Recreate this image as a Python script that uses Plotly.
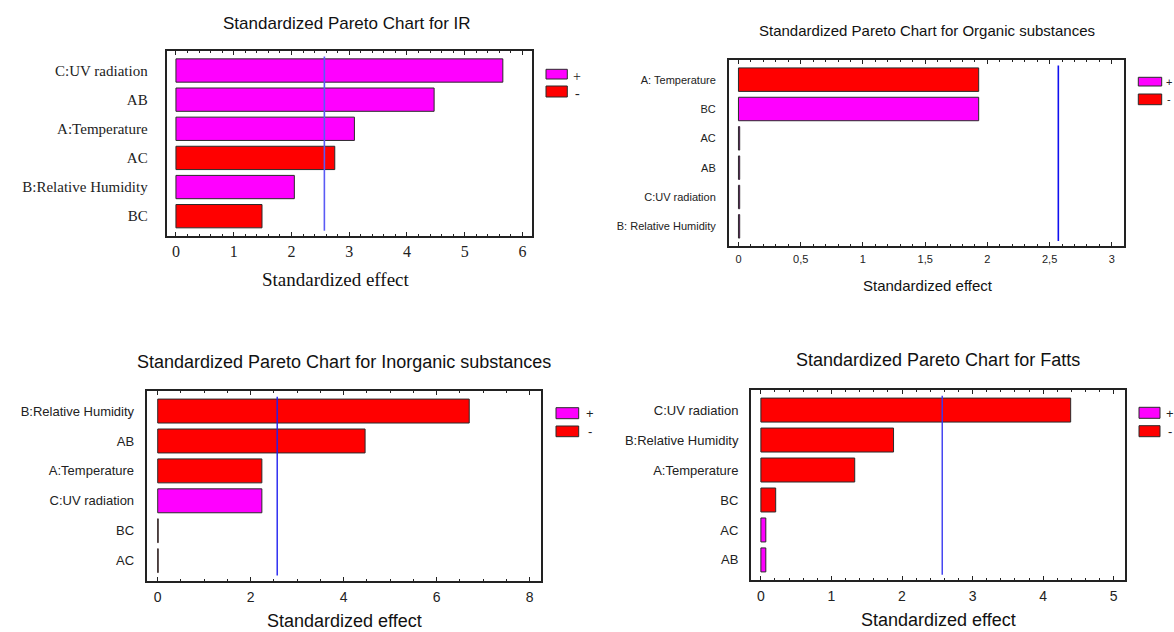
import plotly.graph_objects as go

# ---- data -------------------------------------------------------------
ir_factors = ["C:UV radiation", "AB", "A:Temperature", "AC", "B:Relative Humidity", "BC"]
ir_effects = [5.66, 4.47, 3.09, 2.75, 2.05, 1.49]
ir_signs = ["+", "+", "+", "-", "+", "-"]

org_factors = ["A: Temperature", "BC", "AC", "AB", "C:UV radiation", "B: Relative Humidity"]
org_effects = [1.93, 1.93, 0.01, 0.01, 0.01, 0.01]
org_signs = ["-", "+", "+", "+", "+", "+"]

inorg_factors = ["B:Relative Humidity", "AB", "A:Temperature", "C:UV radiation", "BC", "AC"]
inorg_effects = [6.70, 4.46, 2.24, 2.24, 0.01, 0.01]
inorg_signs = ["-", "-", "-", "+", "-", "-"]

fat_factors = ["C:UV radiation", "B:Relative Humidity", "A:Temperature", "BC", "AC", "AB"]
fat_effects = [4.39, 1.88, 1.33, 0.21, 0.07, 0.07]
fat_signs = ["-", "-", "-", "-", "+", "+"]

# critical value of the standardized effect (alpha = 0.05)
critical_t = 2.57

org_ticks = [0, 0.5, 1, 1.5, 2, 2.5, 3]
org_ticktext = ["0", "0,5", "1", "1,5", "2", "2,5", "3"]

W, H = 1174, 632
SIGN_COLORS = {"+": "#FF00FF", "-": "#FF0000"}

SERIF = "Liberation Serif, Times New Roman, serif"
NARROW = "Liberation Sans Narrow, Arial Narrow, Liberation Sans, Arial, sans-serif"
SANS = "Liberation Sans, Arial, sans-serif"


def fx(px):
    return px / W


def fy(py):
    return 1 - py / H


panels = [
    dict(factors=ir_factors, effects=ir_effects, signs=ir_signs,
         title="Standardized Pareto Chart for IR",
         box=(166.7, 51, 532.3, 235.7), xrange=[-0.16, 6.17],
         dtick=1, minor=0.2, tickvals=None, ticktext=None,
         title_font=dict(family=NARROW, size=17), title_pos=(347, 24),
         cat_font=dict(family=SERIF, size=15), cat_standoff=14,
         tick_font=dict(family=SERIF, size=16), tick_standoff=0,
         axt_font=dict(family=SERIF, size=19), axt_pos=(336, 279),
         line_color="#5A5AF5", line_w=1.6,
         leg=(546, 567.3, 69.3, 79, 86, 97, 577, 77, 93),
         leg_font=dict(family=SERIF, size=14)),
    dict(factors=org_factors, effects=org_effects, signs=org_signs,
         title="Standardized Pareto Chart for Organic substances",
         box=(729, 60, 1124.3, 246), xrange=[-0.076, 3.10],
         dtick=None, minor=0.1, tickvals=org_ticks, ticktext=org_ticktext,
         title_font=dict(family=NARROW, size=15), title_pos=(927, 30),
         cat_font=dict(family=NARROW, size=11), cat_standoff=9,
         tick_font=dict(family=NARROW, size=11), tick_standoff=2,
         axt_font=dict(family=NARROW, size=15), axt_pos=(927.5, 285),
         line_color="#1010F0", line_w=1.6,
         leg=(1138.3, 1161.7, 77.3, 86, 94, 104.7, 1169, 81.7, 99),
         leg_font=dict(family=SANS, size=11)),
    dict(factors=inorg_factors, effects=inorg_effects, signs=inorg_signs,
         title="Standardized Pareto Chart for Inorganic substances",
         box=(146.7, 391, 541.3, 580.7), xrange=[-0.237, 8.25],
         dtick=2, minor=0.5, tickvals=None, ticktext=None,
         title_font=dict(family=SANS, size=18), title_pos=(344, 362),
         cat_font=dict(family=SANS, size=13), cat_standoff=8,
         tick_font=dict(family=SANS, size=14), tick_standoff=2,
         axt_font=dict(family=SANS, size=18), axt_pos=(344, 621),
         line_color="#2020F0", line_w=1.4,
         leg=(556, 578.7, 407.7, 418.7, 426, 436.7, 589.5, 413, 431),
         leg_font=dict(family=SANS, size=13)),
    dict(factors=fat_factors, effects=fat_effects, signs=fat_signs,
         title="Standardized Pareto Chart for Fatts",
         box=(751, 390, 1125, 580), xrange=[-0.14, 5.16],
         dtick=1, minor=0.2, tickvals=None, ticktext=None,
         title_font=dict(family=SANS, size=18), title_pos=(938, 360),
         cat_font=dict(family=SANS, size=13), cat_standoff=8,
         tick_font=dict(family=SANS, size=14), tick_standoff=2,
         axt_font=dict(family=SANS, size=18), axt_pos=(938, 620),
         line_color="#3A3AF0", line_w=1.4,
         leg=(1139, 1160, 407.3, 418.3, 425.7, 436.7, 1170, 413, 431),
         leg_font=dict(family=SANS, size=13)),
]

fig = go.Figure()
shapes = []
annotations = []
layout_axes = {}

for i, p in enumerate(panels, start=1):
    sfx = "" if i == 1 else str(i)
    xa, ya = "x" + sfx, "y" + sfx
    n = len(p["factors"])
    ypos = list(range(n))

    fig.add_trace(go.Bar(
        x=p["effects"], y=ypos, orientation="h", width=0.8,
        marker=dict(color=[SIGN_COLORS[s] for s in p["signs"]],
                    line=dict(color="#2a2a2a", width=1)),
        xaxis=xa, yaxis=ya, showlegend=False, hoverinfo="x+text",
        text=p["factors"], textposition="none",
    ))

    x0, y0, x1, y1 = p["box"]
    xaxis = dict(
        domain=[fx(x0), fx(x1)], range=p["xrange"], anchor=ya,
        showline=True, linecolor="#222", linewidth=2, mirror="allticks",
        ticks="inside", ticklen=4, tickwidth=1, tickcolor="#222",
        minor=dict(dtick=p["minor"], ticks="inside", ticklen=2, tickcolor="#222"),
        showgrid=False, zeroline=False, tickfont=dict(color="#222", **p["tick_font"]),
        ticklabelstandoff=p["tick_standoff"], fixedrange=True,
    )
    if p["tickvals"] is not None:
        xaxis.update(tickmode="array", tickvals=p["tickvals"], ticktext=p["ticktext"])
        xaxis["minor"]["tick0"] = 0
    else:
        xaxis.update(tick0=0, dtick=p["dtick"])
        xaxis["minor"]["tick0"] = 0
    yaxis = dict(
        domain=[fy(y1), fy(y0)], range=[n - 0.33, -0.67], anchor=xa,
        showline=True, linecolor="#222", linewidth=2, mirror=True,
        ticks="", tickmode="array", tickvals=ypos, ticktext=p["factors"],
        showgrid=False, zeroline=False, tickfont=dict(color="#222", **p["cat_font"]),
        ticklabelstandoff=p["cat_standoff"], fixedrange=True,
    )
    layout_axes["xaxis" + sfx] = xaxis
    layout_axes["yaxis" + sfx] = yaxis

    # critical-value reference line
    shapes.append(dict(type="line", xref=xa, yref=ya + " domain",
                       x0=critical_t, x1=critical_t, y0=0.027, y1=0.97,
                       line=dict(color=p["line_color"], width=p["line_w"])))

    # panel title and x-axis title
    tx, ty = p["title_pos"]
    annotations.append(dict(text=p["title"], x=fx(tx), y=fy(ty), xref="paper", yref="paper",
                            xanchor="center", yanchor="middle", showarrow=False,
                            font=dict(color="#111", **p["title_font"])))
    ax_, ay_ = p["axt_pos"]
    annotations.append(dict(text="Standardized effect", x=fx(ax_), y=fy(ay_),
                            xref="paper", yref="paper", xanchor="center", yanchor="middle",
                            showarrow=False, font=dict(color="#111", **p["axt_font"])))

    # sign key
    lx0, lx1, py0, py1, my0, my1, tx_, ty_p, ty_m = p["leg"]
    for (a, b), sign in (((py0, py1), "+"), ((my0, my1), "-")):
        shapes.append(dict(type="rect", xref="paper", yref="paper",
                           x0=fx(lx0), x1=fx(lx1), y0=fy(b), y1=fy(a),
                           fillcolor=SIGN_COLORS[sign], line=dict(color="#2a2a2a", width=1)))
    annotations.append(dict(text="+", x=fx(tx_), y=fy(ty_p), xref="paper", yref="paper",
                            xanchor="center", yanchor="middle", showarrow=False,
                            font=dict(color="#222", **p["leg_font"])))
    annotations.append(dict(text="-", x=fx(tx_), y=fy(ty_m), xref="paper", yref="paper",
                            xanchor="center", yanchor="middle", showarrow=False,
                            font=dict(color="#222", **p["leg_font"])))

fig.update_layout(
    width=W, height=H, margin=dict(l=0, r=0, t=0, b=0),
    paper_bgcolor="white", plot_bgcolor="white", showlegend=False,
    bargap=0.2, shapes=shapes, annotations=annotations, **layout_axes,
)

fig.write_html("out.html", config={"displayModeBar": False})
